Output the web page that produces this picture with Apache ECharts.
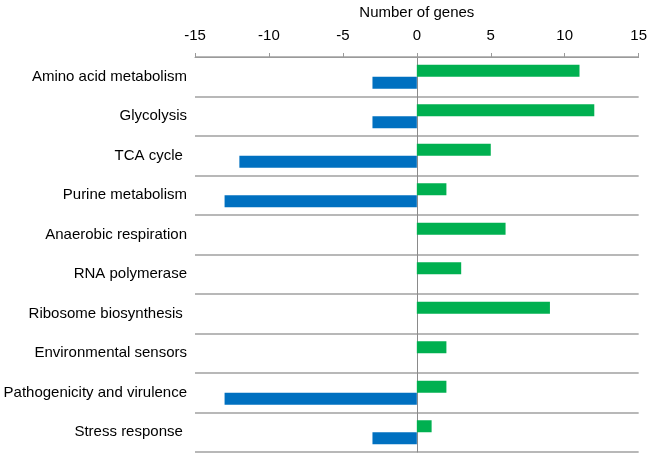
<!DOCTYPE html>
<html>
<head>
<meta charset="utf-8">
<script src="https://cdn.jsdelivr.net/npm/echarts@6/dist/echarts.min.js"></script>
<style>html,body{margin:0;padding:0;background:#fff}#c{width:650px;height:454px}</style>
</head>
<body>
<div id="c"></div>
<script>
var categories = ["Amino acid metabolism", "Glycolysis", "TCA cycle ", "Purine metabolism", "Anaerobic respiration", "RNA polymerase", "Ribosome biosynthesis ", "Environmental sensors", "Pathogenicity and virulence", "Stress response "];
var upRegulated = [11, 12, 5, 2, 6, 3, 9, 2, 2, 1];
var downRegulated = [-3, -3, -12, -13, null, null, null, null, -13, -3];
var xTicks = [-15, -10, -5, 0, 5, 10, 15];

var chart = echarts.init(document.getElementById('c'), null, {renderer: 'canvas'});
var font = 'Liberation Sans, Arial, sans-serif';
chart.setOption({
  animation: false,
  grid: {left: 195, right: 9, top: 52, bottom: 2, containLabel: false},
  xAxis: {
    type: 'value', position: 'top',
    min: xTicks[0], max: xTicks[xTicks.length - 1], interval: 5,
    name: 'Number of genes', nameLocation: 'middle', nameGap: 37,
    nameTextStyle: {fontFamily: font, fontSize: 15, color: '#000'},
    axisLine: {show: true, onZero: false, lineStyle: {color: '#9a9a9a', width: 1}},
    axisTick: {show: true, length: 4, lineStyle: {color: '#9a9a9a'}},
    axisLabel: {fontFamily: font, fontSize: 15, color: '#000', margin: 14},
    splitLine: {show: false}
  },
  yAxis: {
    type: 'category', data: categories, inverse: true,
    axisLine: {show: true, onZero: true, lineStyle: {color: '#8a8a8a', width: 1}},
    axisTick: {show: false},
    axisLabel: {fontFamily: font, fontSize: 15, color: '#000', margin: 0, align: 'right',
      padding: [0, 8, 0, 0]},
    splitLine: {show: true, lineStyle: {color: '#a0a0a0', width: 1.5}}
  },
  series: [
    {type: 'bar', data: upRegulated, barWidth: 12, barGap: '0%', itemStyle: {color: '#00b050'}},
    {type: 'bar', data: downRegulated, barWidth: 12, barGap: '0%', itemStyle: {color: '#0070c0'}}
  ]
});
</script>
</body>
</html>
